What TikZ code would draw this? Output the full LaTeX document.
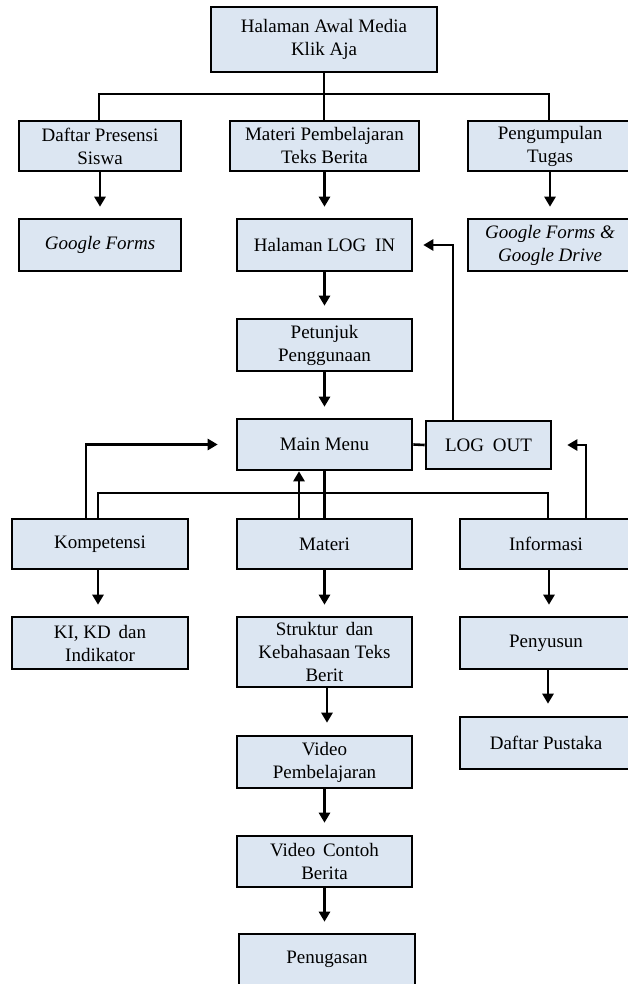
\documentclass[tikz,border=0pt]{standalone}
\usepackage{fontspec}
\setmainfont{Liberation Serif}
\usetikzlibrary{arrows.meta}
\definecolor{boxfill}{RGB}{220,230,242}
\tikzset{
  box/.style={draw=black, line width=2.6pt, fill=boxfill, inner sep=0pt, align=center,
    font=\fontsize{19}{23}\selectfont},
  conn/.style={draw=black, line width=2.6pt},
  arr/.style={conn, -{Triangle[length=10pt,width=11pt]}},
}
\begin{document}
\begin{tikzpicture}[x=1pt,y=-1pt]
\useasboundingbox (0,0) rectangle (628,984);
% row 1
\node[box, minimum width=226pt, minimum height=65pt] (top) at (324,39.5) {Halaman Awal Media\\Klik Aja};
% row 2
\node[box, minimum width=162pt, minimum height=50pt] (daftar) at (100,146) {Daftar Presensi\\Siswa};
\node[box, minimum width=189pt, minimum height=50pt] (materiP) at (324.5,146) {Materi Pembelajaran\\Teks Berita};
\node[box, minimum width=164pt, minimum height=50pt] (kumpul) at (550,146) {Pengumpulan\\Tugas};
% row 3
\node[box, minimum width=162pt, minimum height=52pt] (gforms) at (100,245) {\textit{Google Forms}};
\node[box, minimum width=175pt, minimum height=52pt] (login) at (324.5,245) {Halaman LOG\hspace{4pt} IN};
\node[box, minimum width=164pt, minimum height=52pt] (gfd) at (550,245) {\textit{Google Forms \&}\\\textit{Google Drive}};
% petunjuk, main menu
\node[box, minimum width=175pt, minimum height=52pt] (petunjuk) at (324.5,345) {Petunjuk\\Penggunaan};
\node[box, minimum width=175pt, minimum height=51pt] (mainmenu) at (324.5,444.5) {Main Menu};
\node[box, minimum width=125pt, minimum height=48pt] (logout) at (488.5,445) {LOG\hspace{4pt} OUT};
% row 4
\node[box, minimum width=176pt, minimum height=50pt] (komp) at (100,544) {Kompetensi};
\node[box, minimum width=175pt, minimum height=50pt] (materi) at (324.5,544) {Materi};
\node[box, minimum width=172pt, minimum height=50pt] (info) at (546,544) {Informasi};
% row 5
\node[box, minimum width=176pt, minimum height=52pt] (kikd) at (100,643) {KI, KD\hspace{3pt} dan\\Indikator};
\node[box, minimum width=175pt, minimum height=70pt] (struktur) at (324.5,652) {Struktur\hspace{3pt} dan\\Kebahasaan Teks\\Berit};
\node[box, minimum width=172pt, minimum height=52pt] (penyusun) at (546,643) {Penyusun};
% lower
\node[box, minimum width=175pt, minimum height=52pt] (vidpemb) at (324.5,762) {Video\\Pembelajaran};
\node[box, minimum width=172pt, minimum height=52pt] (pustaka) at (546,743) {Daftar Pustaka};
\node[box, minimum width=175pt, minimum height=51pt] (vidcontoh) at (324.5,861.5) {Video\hspace{3pt} Contoh\\Berita};
\node[box, minimum width=176pt, minimum height=51pt] (tugas) at (327,959.5) {Penugasan};

% bus below top box
\coordinate (bus1) at (324,94);
\draw[conn] (top.south) -- (bus1);
\draw[conn] ([xshift=-1pt]daftar.north) |- (bus1) -| ([xshift=-1pt]kumpul.north);
\draw[conn] (bus1) -- (bus1 |- materiP.north);
% row 2 -> row 3
\draw[arr, shorten >=11pt] (daftar.south) -- (gforms.north);
\draw[arr, shorten >=11pt] (materiP.south) -- (login.north);
\draw[arr, shorten >=11pt] (kumpul.south) -- (gfd.north);
% login chain
\draw[arr, shorten >=12pt] (login.south) -- (petunjuk.north);
\draw[arr, shorten >=11pt] (petunjuk.south) -- (mainmenu.north);
% main menu - logout
\draw[conn] (mainmenu.east) -- (logout.west);
\draw[arr, shorten >=10pt] ([xshift=-35.5pt]logout.north) |- (login.east);
% bus below main menu
\coordinate (bus2) at (324.5,493);
\draw[conn] (mainmenu.south) -- (materi.north);
\draw[conn] ([xshift=-2pt]komp.north) |- (bus2) -| ([xshift=2pt]info.north);
% returns to main menu / logout
\draw[arr, shorten >=18pt] ([xshift=-14pt]komp.north) |- (mainmenu.west);
\draw[arr] ([xshift=-25.5pt]materi.north) -- ([xshift=-25.5pt]mainmenu.south);
\draw[arr, shorten >=15pt] ([xshift=40pt]info.north) |- (logout.east);
% row 4 -> row 5
\draw[arr, shorten >=11pt] ([xshift=-2pt]komp.south) -- ([xshift=-2pt]kikd.north);
\draw[arr, shorten >=11pt] (materi.south) -- (struktur.north);
\draw[arr, shorten >=11pt] ([xshift=3pt]info.south) -- ([xshift=3pt]penyusun.north);
% materi chain
\draw[arr, shorten >=12pt] ([xshift=2.5pt]struktur.south) -- ([xshift=2.5pt]vidpemb.north);
\draw[arr, shorten >=12pt] (vidpemb.south) -- (vidcontoh.north);
\draw[arr, shorten >=11pt] (vidcontoh.south) -- (vidcontoh.south |- tugas.north);
% informasi chain
\draw[arr, shorten >=12pt] ([xshift=2pt]penyusun.south) -- ([xshift=2pt]pustaka.north);
\end{tikzpicture}
\end{document}
